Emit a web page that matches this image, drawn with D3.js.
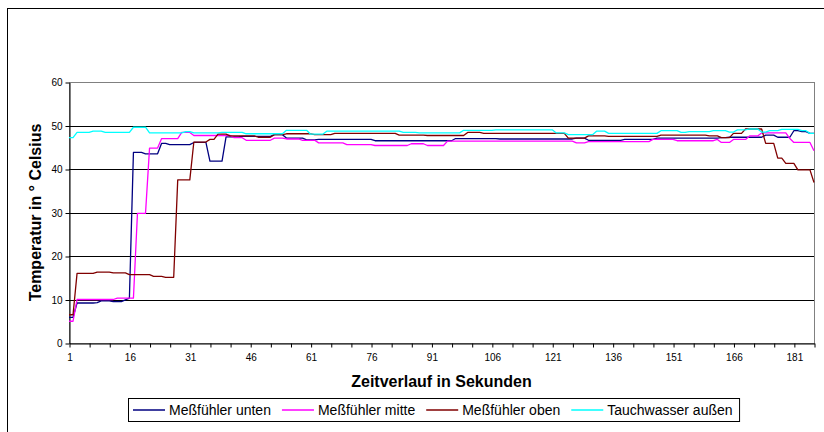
<!DOCTYPE html>
<html>
<head>
<meta charset="utf-8">
<script src="https://cdn.jsdelivr.net/npm/d3@7"></script>
<style>
  html, body { margin: 0; padding: 0; background: #fff; }
  svg { display: block; font-family: "Liberation Sans", Arial, sans-serif; }
</style>
</head>
<body>
<svg id="chart" width="824" height="432"></svg>
<script>
// Temperaturverlauf der Messfühler, ein Messwert pro Sekunde (1 … 186)
const seconds = d3.range(1, 187);

const messfuehlerUnten = [
  5.9, 5.9, 9.2, 9.2, 9.2, 9.2, 9.2, 9.3, 9.7, 9.7,
  9.7, 9.5, 9.5, 9.5, 9.9, 10.3, 43.8, 43.8, 43.8, 43.5,
  43.5, 43.5, 43.5, 45.9, 45.9, 45.6, 45.6, 45.6, 45.6, 45.6,
  45.6, 46.1, 46.1, 46.1, 46.1, 41.8, 41.8, 41.8, 41.8, 47.4,
  47.4, 47.4, 47.4, 47.5, 47.5, 47.5, 47.5, 47.5, 47.5, 47.5,
  47.5, 47.9, 47.9, 47.9, 47.1, 47.1, 47.1, 47.1, 47.1, 46.7,
  46.7, 46.7, 46.8, 46.8, 46.8, 46.8, 46.8, 46.8, 46.8, 46.8,
  46.8, 46.8, 46.8, 46.8, 46.8, 46.8, 46.5, 46.5, 46.5, 46.5,
  46.5, 46.5, 46.5, 46.5, 46.5, 46.5, 46.5, 46.5, 46.5, 46.5,
  46.5, 46.5, 46.5, 46.5, 46.5, 46.5, 47.0, 47.0, 47.0, 47.0,
  47.0, 47.0, 47.0, 47.0, 47.0, 47.0, 47.0, 46.9, 46.9, 46.9,
  46.9, 46.9, 46.9, 46.9, 46.9, 46.9, 46.9, 46.9, 46.9, 46.9,
  46.9, 46.9, 46.9, 46.9, 46.9, 46.9, 47.1, 47.1, 47.1, 46.6,
  46.6, 46.6, 46.6, 46.6, 46.6, 46.6, 46.6, 46.6, 46.8, 46.8,
  46.8, 46.8, 46.8, 46.8, 46.8, 46.8, 47.1, 47.1, 47.1, 47.1,
  47.1, 47.1, 47.1, 47.1, 47.1, 47.1, 47.1, 47.1, 47.1, 47.1,
  47.1, 47.1, 47.2, 47.2, 47.3, 47.3, 47.3, 47.3, 47.3, 47.3,
  47.3, 47.3, 47.3, 47.8, 47.8, 47.8, 47.3, 47.3, 47.3, 47.3,
  48.8, 48.8, 48.6, 48.6, 48.2, 48.2
];

const messfuehlerMitte = [
  5.0, 5.0, 10.0, 10.0, 10.0, 10.0, 10.0, 10.0, 10.0, 10.0,
  10.0, 10.0, 10.3, 10.3, 10.3, 10.3, 10.3, 29.8, 29.8, 29.8,
  44.8, 44.8, 44.8, 47.0, 47.0, 47.0, 47.0, 47.0, 48.4, 48.4,
  48.4, 47.7, 47.7, 47.7, 47.7, 47.7, 47.7, 47.7, 47.7, 47.7,
  47.7, 47.2, 47.2, 47.2, 46.6, 46.6, 46.6, 46.6, 46.6, 46.6,
  46.6, 47.1, 47.1, 47.1, 46.9, 46.9, 46.9, 46.9, 46.6, 46.6,
  46.6, 46.6, 46.0, 46.0, 46.0, 46.0, 46.0, 46.0, 46.0, 45.6,
  45.6, 45.6, 45.6, 45.6, 45.6, 45.6, 45.4, 45.4, 45.4, 45.4,
  45.4, 45.4, 45.4, 45.4, 45.4, 45.8, 45.8, 45.8, 45.8, 45.4,
  45.4, 45.4, 45.4, 45.4, 46.4, 46.4, 46.4, 46.4, 46.4, 46.4,
  46.4, 46.4, 46.4, 46.4, 46.4, 46.4, 46.4, 46.4, 46.4, 46.4,
  46.4, 46.4, 46.4, 46.4, 46.4, 46.4, 46.4, 46.4, 46.4, 46.4,
  46.4, 46.4, 46.4, 46.4, 46.4, 46.4, 46.0, 46.0, 46.0, 46.3,
  46.3, 46.3, 46.3, 46.3, 46.3, 46.3, 46.3, 46.3, 46.3, 46.3,
  46.3, 46.3, 46.3, 46.3, 46.3, 46.8, 46.8, 46.8, 46.8, 46.8,
  46.8, 46.5, 46.5, 46.5, 46.5, 46.5, 46.5, 46.5, 46.5, 46.5,
  46.5, 46.8, 46.1, 46.1, 46.1, 46.8, 46.8, 46.8, 46.8, 47.6,
  47.6, 47.6, 48.3, 48.3, 48.3, 48.3, 48.3, 48.3, 48.3, 47.0,
  46.1, 46.1, 46.1, 46.1, 46.1, 44.2
];

const messfuehlerOben = [
  6.5, 6.5, 16.0, 16.0, 16.0, 16.0, 16.0, 16.3, 16.3, 16.3,
  16.3, 16.1, 16.1, 16.1, 16.1, 15.7, 15.7, 15.7, 15.7, 15.7,
  15.7, 15.3, 15.3, 15.3, 15.1, 15.1, 15.1, 37.5, 37.5, 37.5,
  37.5, 46.2, 46.2, 46.2, 46.2, 46.8, 46.8, 48.0, 48.0, 48.0,
  47.6, 47.6, 47.6, 47.6, 47.6, 47.6, 47.6, 47.3, 47.3, 47.3,
  47.3, 47.9, 47.9, 47.9, 48.1, 48.1, 48.1, 48.1, 48.1, 48.1,
  48.1, 47.9, 47.9, 47.9, 47.9, 47.9, 48.2, 48.2, 48.2, 48.2,
  48.2, 48.2, 48.2, 48.2, 48.2, 48.2, 48.2, 48.2, 48.2, 48.2,
  48.2, 48.2, 47.8, 47.8, 47.8, 47.8, 47.8, 47.8, 47.8, 47.7,
  47.7, 47.7, 47.7, 47.7, 47.7, 47.7, 47.7, 47.7, 47.7, 48.4,
  48.4, 48.4, 48.4, 48.2, 48.2, 48.2, 48.2, 48.2, 48.2, 48.2,
  48.2, 48.2, 48.2, 48.2, 48.2, 48.2, 48.2, 48.2, 48.2, 48.2,
  48.2, 48.2, 48.2, 48.2, 47.1, 47.1, 47.1, 47.1, 47.1, 47.6,
  47.6, 47.6, 47.6, 47.6, 47.5, 47.5, 47.5, 47.5, 47.5, 47.5,
  47.5, 47.5, 47.5, 47.5, 47.5, 47.5, 47.5, 47.8, 47.8, 47.8,
  47.8, 47.8, 47.8, 47.8, 47.8, 47.8, 47.8, 47.8, 47.8, 47.6,
  47.6, 47.6, 47.2, 47.2, 47.2, 48.2, 48.2, 48.2, 49.2, 49.2,
  49.2, 49.2, 49.2, 45.9, 45.9, 45.9, 42.5, 42.5, 41.3, 41.3,
  41.3, 39.8, 39.8, 39.8, 39.8, 36.9
];

const tauchwasserAussen = [
  47.2, 47.2, 48.4, 48.4, 48.4, 48.4, 48.7, 48.7, 48.7, 48.4,
  48.4, 48.4, 48.4, 48.4, 48.4, 48.4, 49.6, 49.6, 49.6, 49.6,
  48.3, 48.3, 48.3, 48.3, 48.3, 48.3, 48.3, 48.3, 48.3, 48.6,
  48.6, 48.3, 48.3, 48.3, 48.3, 48.3, 48.3, 48.3, 48.4, 48.4,
  48.4, 48.4, 48.4, 48.4, 48.1, 48.1, 48.1, 48.1, 48.1, 48.1,
  48.1, 48.1, 48.1, 48.1, 48.9, 48.9, 48.9, 48.9, 48.9, 48.9,
  48.0, 48.0, 48.0, 48.0, 48.7, 48.7, 48.7, 48.7, 48.7, 48.7,
  48.7, 48.7, 48.7, 48.7, 48.7, 48.7, 48.7, 48.7, 48.7, 48.7,
  48.7, 48.7, 48.7, 48.4, 48.4, 48.4, 48.4, 48.3, 48.3, 48.3,
  48.3, 48.3, 48.3, 48.3, 48.3, 48.3, 48.3, 48.3, 48.9, 48.9,
  48.9, 48.9, 48.9, 48.9, 48.9, 48.9, 49.0, 49.0, 49.0, 49.0,
  49.0, 49.0, 49.0, 49.0, 49.0, 49.0, 49.0, 49.0, 49.0, 49.0,
  49.0, 48.3, 48.3, 48.3, 47.9, 47.9, 47.9, 47.9, 47.9, 47.9,
  47.9, 48.7, 48.7, 48.7, 48.2, 48.2, 48.2, 48.2, 48.2, 48.2,
  48.2, 48.2, 48.2, 48.2, 48.2, 48.2, 48.2, 48.8, 48.8, 48.8,
  48.8, 48.8, 48.4, 48.4, 48.6, 48.6, 48.6, 48.6, 48.6, 48.6,
  48.8, 48.8, 48.8, 48.8, 48.5, 48.5, 49.0, 49.0, 49.0, 49.2,
  49.2, 49.2, 48.5, 48.5, 48.8, 48.8, 48.8, 49.1, 49.1, 49.1,
  49.1, 49.1, 48.8, 48.8, 48.2, 48.2
];

const seriesNames = ["Meßfühler unten", "Meßfühler mitte", "Meßfühler oben", "Tauchwasser außen"];
const seriesColors = ["#000080", "#ff00ff", "#800000", "#00ffff"];
const seriesValues = [messfuehlerUnten, messfuehlerMitte, messfuehlerOben, tauchwasserAussen];

const yTicks = [0, 10, 20, 30, 40, 50, 60];
const xTickMarks = d3.range(1, 187, 5);
const xTickLabels = d3.range(1, 182, 15);

const svg = d3.select("#chart");

// Rahmen des Diagrammbereichs
svg.append("rect")
  .attr("x", 7.5).attr("y", 8.5)
  .attr("width", 840).attr("height", 440)
  .attr("fill", "#fff").attr("stroke", "#000").attr("stroke-width", 1);

const plot = { left: 69, right: 814, top: 82, bottom: 343 };

const x = d3.scaleLinear().domain([1, 186]).range([plot.left, plot.right]);
const y = d3.scaleLinear().domain([0, 60]).range([plot.bottom, plot.top]);

// Zeichnungsfläche mit grauem Rand
svg.append("rect")
  .attr("x", plot.left + 0.5).attr("y", plot.top + 0.5)
  .attr("width", plot.right - plot.left).attr("height", plot.bottom - plot.top)
  .attr("fill", "#fff").attr("stroke", "#808080");

// Hauptgitternetzlinien
svg.append("g")
  .selectAll("line")
  .data(yTicks.filter(d => d > 0 && d < 60))
  .join("line")
  .attr("x1", plot.left).attr("x2", plot.right)
  .attr("y1", d => Math.round(y(d)) + 0.5)
  .attr("y2", d => Math.round(y(d)) + 0.5)
  .attr("stroke", "#000").attr("stroke-width", 1);

// Y-Achse
const yAxis = d3.axisLeft(y)
  .tickValues(yTicks)
  .tickSize(4)
  .tickSizeOuter(0)
  .tickPadding(3)
  .tickFormat(d3.format("d"));

const gy = svg.append("g")
  .attr("transform", `translate(${plot.left + 0.5},0.5)`)
  .call(yAxis);
gy.select(".domain").attr("stroke", "#000");
gy.selectAll(".tick line").attr("stroke", "#000");
gy.selectAll(".tick text")
  .attr("font-family", "'Liberation Sans', Arial, sans-serif")
  .attr("font-size", 10).attr("fill", "#000");

// X-Achse (Kategorien, Beschriftung alle 15 Sekunden)
const xAxis = d3.axisBottom(x)
  .tickValues(xTickMarks)
  .tickSize(4)
  .tickSizeOuter(0)
  .tickPadding(6)
  .tickFormat(d => xTickLabels.includes(d) ? String(d) : "");

const gx = svg.append("g")
  .attr("transform", `translate(0.5,${plot.bottom + 0.5})`)
  .call(xAxis);
gx.select(".domain").attr("stroke", "#000");
gx.selectAll(".tick line").attr("stroke", "#000");
gx.selectAll(".tick text")
  .attr("font-family", "'Liberation Sans', Arial, sans-serif")
  .attr("font-size", 10).attr("fill", "#000");

// Messkurven
const line = d3.line()
  .x((d, i) => x(seconds[i]))
  .y(d => y(d));

svg.append("g")
  .selectAll("path")
  .data(seriesValues)
  .join("path")
  .attr("d", line)
  .attr("fill", "none")
  .attr("stroke", (d, i) => seriesColors[i])
  .attr("stroke-width", 1.3)
  .attr("stroke-linejoin", "round");

// Achsentitel
svg.append("text")
  .attr("x", (plot.left + plot.right) / 2)
  .attr("y", 387)
  .attr("text-anchor", "middle")
  .attr("font-size", 16).attr("font-weight", "bold")
  .text("Zeitverlauf in Sekunden");

svg.append("text")
  .attr("transform", `translate(41,${(plot.top + plot.bottom) / 2}) rotate(-90)`)
  .attr("text-anchor", "middle")
  .attr("font-size", 16).attr("font-weight", "bold")
  .text("Temperatur in ° Celsius");

// Legende
const legend = svg.append("g");
const legendBox = legend.append("rect")
  .attr("y", 398.5).attr("height", 23)
  .attr("fill", "#fff").attr("stroke", "#000");

let cursor = 133;
seriesNames.forEach((name, i) => {
  legend.append("line")
    .attr("x1", cursor).attr("x2", cursor + 32)
    .attr("y1", 410).attr("y2", 410)
    .attr("stroke", seriesColors[i]).attr("stroke-width", 1.5);
  const t = legend.append("text")
    .attr("x", cursor + 36).attr("y", 415)
    .attr("font-size", 14)
    .text(name);
  cursor += 36 + t.node().getComputedTextLength() + 11;
});
legendBox.attr("x", 128.5).attr("width", cursor - 11 + 7 - 128.5);
</script>
</body>
</html>
